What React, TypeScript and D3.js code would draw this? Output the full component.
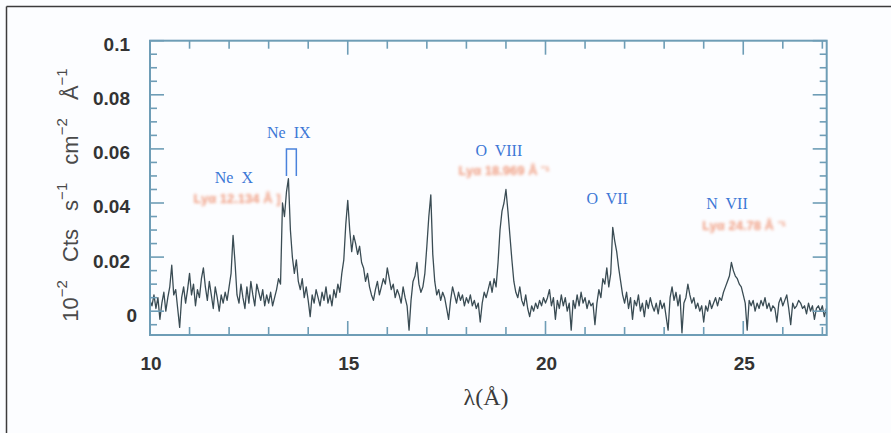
import React from "react";
import * as d3 from "d3";

// Spectrum: flux in 10^-2 Cts s^-1 cm^-2 Å^-1, bins of 0.05 Å starting at 10.00 Å
const binStart = 10.0;
const binWidth = 0.05;
const flux = [
  0.004, 0.002, 0.006, 0.001, 0.005, -0.003, 0.003, 0.007, 0.0, 0.005,
  0.009, 0.017, 0.006, 0.008, 0.001, -0.006, 0.005, 0.009, 0.003, 0.008,
  0.014, 0.006, 0.010, 0.002, 0.008, 0.005, 0.012, 0.016, 0.009, 0.004,
  0.011, 0.006, 0.001, 0.009, 0.005, 0.0, 0.006, 0.003, 0.007, 0.004,
  0.009, 0.014, 0.028, 0.018, 0.006, 0.003, 0.010, 0.005, 0.001, 0.009,
  0.003, 0.011, 0.006, 0.002, 0.010, 0.007, 0.004, 0.008, 0.002, 0.006,
  0.003, 0.007, 0.002, 0.005, 0.008, 0.012, 0.010, 0.040, 0.035, 0.044,
  0.049, 0.030, 0.020, 0.014, 0.019, 0.011, 0.008, 0.012, 0.005, 0.009,
  0.004, -0.002, 0.006, 0.003, 0.008, 0.005, 0.002, 0.007, 0.004, 0.009,
  0.003, 0.006, 0.002, 0.008, 0.005, 0.010, 0.007, 0.014, 0.019, 0.032,
  0.041, 0.030, 0.022, 0.028, 0.025, 0.021, 0.024, 0.018, 0.016, 0.011,
  0.014, 0.009, 0.006, 0.004, 0.008, 0.011, 0.006, 0.009, 0.012, 0.010,
  0.016, 0.012, 0.008, 0.010, 0.005, 0.008, 0.006, 0.003, 0.009, 0.005,
  0.002, -0.007, 0.004, 0.011, 0.013, 0.018, 0.010, 0.007, 0.009, 0.014,
  0.024, 0.035, 0.043, 0.021, 0.011, 0.006, 0.008, 0.004, 0.007, 0.005,
  0.001, -0.003, 0.004, 0.009, 0.006, 0.003, 0.007, 0.004, 0.006, 0.002,
  0.005, 0.003, 0.006, 0.002, 0.004, 0.001, 0.003, -0.004, 0.003, 0.007,
  0.005, 0.008, 0.011, 0.007, 0.012, 0.009, 0.018, 0.030, 0.037, 0.040,
  0.045, 0.037, 0.028, 0.019, 0.011, 0.007, 0.005, 0.009, 0.004, 0.002,
  0.006, 0.001, -0.002, 0.002, 0.0, 0.003, 0.001, 0.004, 0.002, 0.005,
  0.003, 0.005, 0.008, 0.002, 0.005, -0.003, 0.004, 0.001, 0.006, 0.002,
  0.005, 0.0, 0.003, -0.007, 0.004, 0.001, 0.006, 0.002, 0.007, 0.003,
  0.005, 0.001, 0.004, 0.002, 0.003, -0.005, 0.003, 0.008, 0.005, 0.012,
  0.010, 0.016, 0.009, 0.014, 0.031, 0.026, 0.022, 0.016, 0.011, 0.006,
  0.003, 0.007, 0.001, 0.005, -0.003, 0.004, 0.002, 0.006, 0.0, 0.003,
  -0.002, 0.004, 0.001, 0.005, 0.002, 0.0, 0.003, -0.001, 0.004, 0.001,
  0.003, -0.002, -0.007, 0.005, 0.009, 0.004, 0.007, 0.002, 0.006, -0.008,
  0.003, 0.005, 0.010, 0.006, 0.003, 0.005, 0.001, 0.003, 0.0, 0.002,
  -0.004, 0.002, 0.0, 0.004, 0.001, 0.003, 0.005, 0.002, 0.005, 0.004,
  0.007, 0.009, 0.011, 0.013, 0.018, 0.015, 0.013, 0.012, 0.010, 0.009,
  0.006, 0.003, -0.007, 0.004, 0.002, 0.004, 0.0, 0.003, 0.001, 0.004,
  0.002, 0.005, 0.001, 0.003, 0.0, 0.002, 0.001, -0.004, 0.003, 0.005,
  0.002, 0.004, 0.006, 0.001, -0.005, 0.003, 0.001, 0.002, 0.004, 0.003,
  0.001, 0.002, -0.001, 0.003, 0.0, 0.002, -0.003, 0.001, 0.002, 0.0,
  0.002, -0.002, 0.001,
];

const xDomain = [10, 27.11];
const yDomain = [-0.0088, 0.1];
const xTickLabels = [10, 15, 20, 25];
const yTickLabels = [0, 0.02, 0.04, 0.06, 0.08, 0.1];

// Line identifications
const lineNames = ["Ne X", "Ne IX", "O VIII", "O VII", "N VII"];
const lineLabelX = [12.12, 13.51, 18.82, 21.56, 24.59];
const lineLabelY = [0.0494, 0.0659, 0.0593, 0.0416, 0.0398];
// faint secondary (orange) annotations
const noteTexts = ["Lyα 12.134 Å  ]", "Lyα 18.969 Å ⁻¹", "Lyα 24.78 Å ⁻¹"];
const noteX = [12.2, 18.95, 25.02];
const noteY = [0.0416, 0.0519, 0.0317];
// Ne IX triplet bracket
const tripletFrom = 13.45;
const tripletTo = 13.7;
const tripletLow = 0.05;
const tripletHigh = 0.06;

const W = 891;
const H = 433;
const plot = { left: 150, right: 826.7, top: 40.7, bottom: 335 };
const frameColor = "#6e9db6";
const inkColor = "#3a4c54";

export default function App() {
  const x = d3.scaleLinear().domain(xDomain).range([plot.left, plot.right]);
  const y = d3.scaleLinear().domain(yDomain).range([plot.bottom, plot.top]);

  const pts = flux.map((v, i) => [binStart + i * binWidth, v] as [number, number]);
  const line = d3
    .line<[number, number]>()
    .x((d) => x(d[0]))
    .y((d) => y(d[1]))
    .curve(d3.curveLinear);

  const xMinor = d3.range(11, 27.01, 1);
  const yMinor = d3.range(-0.005, 0.1001, 0.005);

  const ticks: React.ReactNode[] = [];
  xMinor.forEach((t, i) => {
    const major = Math.abs(t % 5) < 1e-6;
    const len = major ? 14 : 8;
    const px = x(t);
    ticks.push(
      <line key={"xb" + i} x1={px} x2={px} y1={plot.bottom} y2={plot.bottom - len} />,
      <line key={"xt" + i} x1={px} x2={px} y1={plot.top} y2={plot.top + len} />
    );
  });
  yMinor.forEach((t, i) => {
    const major = Math.abs(Math.round(t / 0.02) * 0.02 - t) < 1e-6;
    const len = major ? 14 : 7;
    const py = y(t);
    ticks.push(
      <line key={"yl" + i} x1={plot.left} x2={plot.left + len} y1={py} y2={py} />,
      <line key={"yr" + i} x1={plot.right} x2={plot.right - len} y1={py} y2={py} />
    );
  });

  const numFont = "'Liberation Sans', Arial, sans-serif";

  return (
    <svg
      width={W}
      height={H}
      style={{ position: "absolute", left: 0, top: 0, background: "#fcfdff" }}
    >
      <defs>
        <filter id="blur" x="-10%" y="-60%" width="120%" height="220%">
          <feGaussianBlur stdDeviation="1.5" />
        </filter>
      </defs>
      <rect x={0} y={0} width={W} height={H} fill="#fcfdff" />
      {/* outer border (top and left visible) */}
      <line x1={6.5} x2={W} y1={6.5} y2={6.5} stroke="#3c3c3c" strokeWidth={1.5} />
      <line x1={6.5} x2={6.5} y1={6.5} y2={H} stroke="#3c3c3c" strokeWidth={1.5} />

      {/* spectrum */}
      <path d={line(pts) || ""} fill="none" stroke={inkColor} strokeWidth={1.3} strokeLinejoin="round" />

      {/* frame */}
      <rect
        x={plot.left}
        y={plot.top}
        width={plot.right - plot.left}
        height={plot.bottom - plot.top}
        fill="none"
        stroke={frameColor}
        strokeWidth={2}
      />
      <g stroke={frameColor} strokeWidth={1.6}>{ticks}</g>

      {/* y tick labels */}
      {yTickLabels.map((t) => (
        <text
          key={"yl" + t}
          x={t === 0 ? 137 : 130}
          y={y(t) + 4}
          textAnchor="end"
          dominantBaseline="central"
          fontFamily={numFont}
          fontWeight="bold"
          fontSize={19}
          fill="#333"
        >
          {String(t)}
        </text>
      ))}
      {/* x tick labels */}
      {xTickLabels.map((t) => (
        <text
          key={"xl" + t}
          x={x(t) + 1}
          y={363}
          textAnchor="middle"
          dominantBaseline="central"
          fontFamily={numFont}
          fontWeight="bold"
          fontSize={19}
          fill="#333"
        >
          {String(t)}
        </text>
      ))}

      {/* axis titles */}
      <text
        x={486}
        y={397}
        textAnchor="middle"
        dominantBaseline="central"
        fontFamily="'Liberation Serif', 'Times New Roman', serif"
        fontSize={24}
        fill="#3a3a3a"
      >
        λ(Å)
      </text>
      <text
        transform={`translate(70, 195) rotate(-90)`}
        textAnchor="middle"
        dominantBaseline="central"
        fontFamily={numFont}
        fontSize={22}
        fill="#4a4a4a"
        wordSpacing={12}
      >
        <tspan>10</tspan>
        <tspan dy={-9} fontSize={15}>−2</tspan>
        <tspan dy={9}> Cts s</tspan>
        <tspan dy={-9} fontSize={15}>−1</tspan>
        <tspan dy={9}> cm</tspan>
        <tspan dy={-9} fontSize={15}>−2</tspan>
        <tspan dy={9}> Å</tspan>
        <tspan dy={-9} fontSize={15}>−1</tspan>
      </text>

      {/* orange notes */}
      {noteTexts.map((t, i) => (
        <text
          key={"n" + i}
          x={x(noteX[i])}
          y={y(noteY[i])}
          textAnchor="middle"
          dominantBaseline="central"
          fontFamily={numFont}
          fontWeight="bold"
          fontSize={13}
          fill="#ee8a68"
          filter="url(#blur)"
          opacity={0.85}
        >
          {t}
        </text>
      ))}

      {/* line labels */}
      {lineNames.map((t, i) => (
        <text
          key={"l" + i}
          x={x(lineLabelX[i])}
          y={y(lineLabelY[i])}
          textAnchor="middle"
          dominantBaseline="central"
          fontFamily="'Liberation Serif', 'Times New Roman', serif"
          fontSize={16}
          fill="#3d78d6"
          style={{ whiteSpace: "pre" }}
        >
          {t.replace(" ", "  ")}
        </text>
      ))}
      {/* Ne IX triplet bracket */}
      <path
        d={`M${x(tripletFrom)},${y(tripletLow)} V${y(tripletHigh)} H${x(tripletTo)} V${y(tripletLow)}`}
        fill="none"
        stroke="#4a82dc"
        strokeWidth={1.5}
      />
    </svg>
  );
}
